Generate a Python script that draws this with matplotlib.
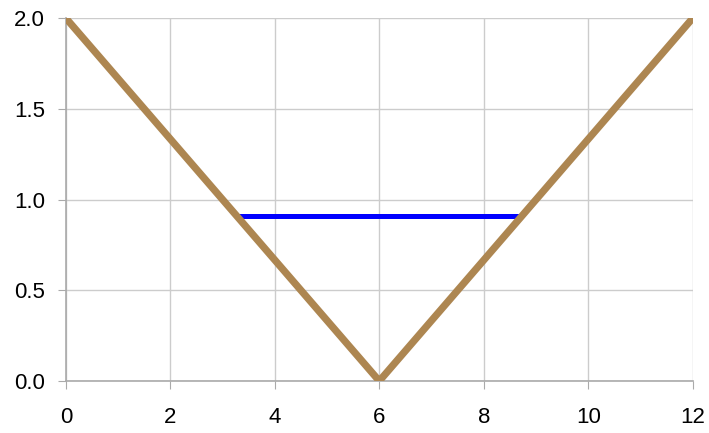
import matplotlib
matplotlib.use("Agg")
import matplotlib.pyplot as plt

# V-shaped curve
v_x = [0, 6, 12]
v_y = [2.0, 0.0, 2.0]

# horizontal level segment
level_x = [3.27, 8.73]
level_y = [0.91, 0.91]

x_ticks = [0, 2, 4, 6, 8, 10, 12]
y_ticks = [0.0, 0.5, 1.0, 1.5, 2.0]

plt.rcParams["font.family"] = ["Liberation Sans", "DejaVu Sans"]

fig = plt.figure(figsize=(7.09, 4.33), dpi=100)
ax = fig.add_axes([0.093, 0.12, 0.884, 0.838])

ax.plot(level_x, level_y, color="#0000FF", linewidth=3.6, solid_capstyle="butt", zorder=3)
ax.plot(v_x, v_y, color="#AD8651", linewidth=5.2, zorder=4)

ax.set_xlim(0, 12)
ax.set_ylim(0, 2)
ax.set_xticks(x_ticks)
ax.set_yticks(y_ticks)
ax.set_xticklabels([str(t) for t in x_ticks])
ax.set_yticklabels([f"{t:.1f}" for t in y_ticks])

ax.grid(True, color="#CCCCCC", linewidth=1.0)
ax.set_axisbelow(True)
for side in ["top", "right"]:
    ax.spines[side].set_visible(False)
for side in ["left", "bottom"]:
    ax.spines[side].set_color("#AAAAAA")
    ax.spines[side].set_linewidth(1.2)
ax.tick_params(axis="both", colors="#AAAAAA", labelcolor="black", labelsize=16, length=6)
ax.tick_params(axis="x", pad=13)
ax.tick_params(axis="y", pad=9)

plt.savefig("out.png", dpi=100)
